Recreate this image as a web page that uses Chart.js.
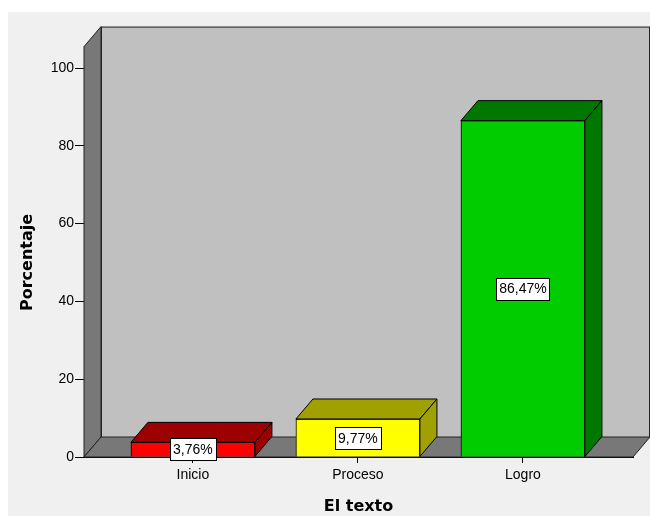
<!DOCTYPE html>
<html>
<head>
<meta charset="utf-8">
<script src="https://cdn.jsdelivr.net/npm/chart.js@4/dist/chart.umd.min.js"></script>
<style>
html,body{margin:0;padding:0;background:#fff;}
#wrap{position:relative;width:650px;height:516px;}
</style>
</head>
<body>
<div id="wrap"><canvas id="c" width="650" height="516"></canvas></div>
<script>
const categories = ["Inicio", "Proceso", "Logro"];
const percentages = [3.76, 9.77, 86.47];
const valueLabels = ["3,76%", "9,77%", "86,47%"];
const yTicks = [0, 20, 40, 60, 80, 100];
const xPositions = [0, 1, 2];

const frontColors = ["#ff0000", "#ffff00", "#00cc00"];
const darkColors = ["#9c0000", "#a0a000", "#007800"];
const DX = 17, DY = 20, WALL_TOP = 105.5;

const threeD = {
  id: "threeD",
  beforeDraw(chart) {
    const ctx = chart.ctx;
    ctx.save();
    ctx.fillStyle = "#ffffff";
    ctx.fillRect(0, 0, chart.width, chart.height);
    ctx.fillStyle = "#f0f0f0";
    ctx.fillRect(8, 12, chart.width - 8, chart.height - 12);
    ctx.restore();
  },
  beforeDatasetsDraw(chart) {
    const ctx = chart.ctx, xs = chart.scales.x, ys = chart.scales.y;
    const L = xs.left, R = xs.right;
    const B = ys.getPixelForValue(0), T = ys.getPixelForValue(WALL_TOP);
    ctx.save();
    ctx.lineWidth = 1;
    ctx.strokeStyle = "#222";
    ctx.lineJoin = "miter";
    // back wall
    ctx.fillStyle = "#c0c0c0";
    ctx.fillRect(L + DX, T - DY, R - L, B - T);
    ctx.strokeRect(L + DX + 0.5, T - DY + 0.5, R - L - 1, B - T);
    // left wall
    ctx.fillStyle = "#787878";
    ctx.beginPath();
    ctx.moveTo(L, T); ctx.lineTo(L + DX, T - DY); ctx.lineTo(L + DX, B - DY); ctx.lineTo(L, B); ctx.closePath();
    ctx.fill(); ctx.stroke();
    // floor
    ctx.beginPath();
    ctx.moveTo(L, B); ctx.lineTo(L + DX, B - DY); ctx.lineTo(R + DX, B - DY); ctx.lineTo(R, B); ctx.closePath();
    ctx.fill(); ctx.stroke();
    ctx.restore();
  },
  afterDatasetsDraw(chart) {
    const ctx = chart.ctx;
    const meta = chart.getDatasetMeta(0);
    ctx.save();
    ctx.lineWidth = 1;
    ctx.strokeStyle = "#000";
    meta.data.forEach((bar, i) => {
      const p = bar.getProps(["x", "y", "base", "width"], true);
      const l = p.x - p.width / 2, r = p.x + p.width / 2, t = p.y, b = p.base;
      ctx.fillStyle = darkColors[i];
      ctx.beginPath();
      ctx.moveTo(l, t); ctx.lineTo(l + DX, t - DY); ctx.lineTo(r + DX, t - DY); ctx.lineTo(r, t); ctx.closePath();
      ctx.fill(); ctx.stroke();
      ctx.beginPath();
      ctx.moveTo(r, t); ctx.lineTo(r + DX, t - DY); ctx.lineTo(r + DX, b - DY); ctx.lineTo(r, b); ctx.closePath();
      ctx.fill(); ctx.stroke();
    });
    // value labels
    ctx.font = "14px 'Liberation Sans', Arial, sans-serif";
    ctx.textAlign = "center";
    ctx.textBaseline = "middle";
    meta.data.forEach((bar, i) => {
      const p = bar.getProps(["x", "y", "base"], true);
      const cy = (p.y + p.base) / 2;
      const w = ctx.measureText(valueLabels[i]).width + 6;
      const h = 22;
      const bx = Math.round(p.x - w / 2) + 0.5, by = Math.round(cy - h / 2) + 0.5;
      ctx.fillStyle = "#ffffff";
      ctx.fillRect(bx, by, Math.round(w), h);
      ctx.strokeStyle = "#000";
      ctx.strokeRect(bx, by, Math.round(w), h);
      ctx.fillStyle = "#000";
      ctx.fillText(valueLabels[i], p.x, cy + 1);
    });
    ctx.restore();
  }
};

new Chart(document.getElementById("c"), {
  type: "bar",
  data: {
    labels: categories,
    datasets: [{
      data: xPositions.map((x, i) => ({ x: x, y: percentages[i] })),
      backgroundColor: frontColors,
      borderColor: "#000",
      borderWidth: 1,
      barThickness: 124
    }]
  },
  options: {
    responsive: false,
    animation: false,
    events: [],
    layout: { padding: { top: 68, left: 10, right: 17, bottom: 0 } },
    plugins: { legend: { display: false }, tooltip: { enabled: false } },
    scales: {
      x: {
        type: "linear",
        min: -0.66,
        max: 2.667,
        offset: false,
        grid: { offset: false, drawOnChartArea: false, tickLength: 6, color: "#000" },
        border: { display: true, color: "#000" },
        afterBuildTicks: (s) => { s.ticks = xPositions.map(v => ({ value: v })); },
        afterFit: (s) => { s.height = 59; },
        ticks: {
          padding: 4,
          color: "#000",
          font: { family: "'Liberation Sans', Arial, sans-serif", size: 14 },
          callback: (v) => categories[v]
        },
        title: {
          display: true,
          text: "El texto",
          color: "#000",
          font: { family: "'DejaVu Sans', sans-serif", size: 16, weight: "bold" },
          padding: { top: 0, bottom: 0 }
        }
      },
      y: {
        min: 0,
        max: 100,
        afterBuildTicks: (s) => { s.ticks = yTicks.map(v => ({ value: v })); },
        afterFit: (s) => { s.width = 74; },
        grid: { drawOnChartArea: false, tickLength: 9, color: "#000" },
        border: { display: true, color: "#000" },
        ticks: {
          padding: 1,
          color: "#000",
          font: { family: "'Liberation Sans', Arial, sans-serif", size: 14 }
        },
        title: {
          display: true,
          text: "Porcentaje",
          color: "#000",
          font: { family: "'DejaVu Sans', sans-serif", size: 16, weight: "bold" },
          padding: { top: 8, bottom: 0 }
        }
      }
    }
  },
  plugins: [threeD]
});
</script>
</body>
</html>
